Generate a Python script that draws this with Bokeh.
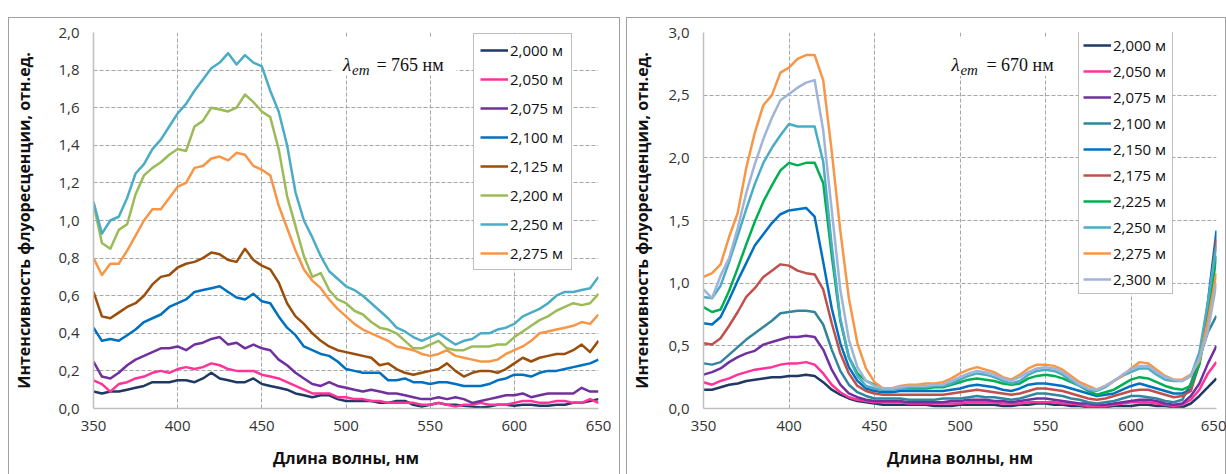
from bokeh.plotting import figure
from bokeh.models import (Range1d, FixedTicker, CustomJSTickFormatter, Legend,
                          LegendItem, Label, BoxAnnotation)
from bokeh.layouts import row
from bokeh.embed import file_html
from bokeh.resources import INLINE

# Excitation wavelength grid, nm
WAVELENGTH = list(range(350, 655, 5))

X_TICKS = [350, 400, 450, 500, 550, 600, 650]
X_TICK_LABELS = ["350", "400", "450", "500", "550", "600", "650"]

# ---------- Spectra recorded at lambda_em = 765 nm ----------
LEFT_Y_TICKS = [0.0, 0.2, 0.4, 0.6, 0.8, 1.0, 1.2, 1.4, 1.6, 1.8, 2.0]
LEFT_Y_TICK_LABELS = ["0,0", "0,2", "0,4", "0,6", "0,8", "1,0", "1,2", "1,4", "1,6", "1,8", "2,0"]
LEFT_LABELS = ["2,000 м", "2,050 м", "2,075 м", "2,100 м", "2,125 м", "2,200 м", "2,250 м", "2,275 м"]
LEFT_COLORS = ["#1f3864", "#ff3399", "#7030a0", "#0070c0", "#9a4e0b", "#9bbb59", "#4bacc6", "#f79646"]

L_2000 = [0.09, 0.08, 0.09, 0.09, 0.10, 0.11, 0.12, 0.14, 0.14, 0.14,
          0.15, 0.15, 0.14, 0.16, 0.19, 0.16, 0.15, 0.14, 0.14, 0.16,
          0.13, 0.12, 0.11, 0.10, 0.08, 0.07, 0.06, 0.07, 0.07, 0.05,
          0.04, 0.04, 0.04, 0.04, 0.03, 0.03, 0.04, 0.04, 0.02, 0.01,
          0.02, 0.03, 0.02, 0.02, 0.015, 0.01, 0.005, 0.01, 0.02, 0.02,
          0.015, 0.02, 0.02, 0.015, 0.015, 0.02, 0.02, 0.03, 0.03, 0.04,
          0.05]
L_2050 = [0.15, 0.13, 0.09, 0.13, 0.14, 0.16, 0.17, 0.19, 0.20, 0.19,
          0.21, 0.22, 0.21, 0.22, 0.24, 0.23, 0.21, 0.20, 0.20, 0.20,
          0.18, 0.17, 0.16, 0.14, 0.12, 0.10, 0.08, 0.08, 0.08, 0.06,
          0.06, 0.05, 0.05, 0.04, 0.04, 0.03, 0.03, 0.03, 0.03, 0.02,
          0.02, 0.03, 0.02, 0.01, 0.02, 0.02, 0.03, 0.02, 0.02, 0.02,
          0.03, 0.04, 0.04, 0.03, 0.03, 0.04, 0.04, 0.03, 0.03, 0.05,
          0.03]
L_2075 = [0.25, 0.17, 0.16, 0.19, 0.23, 0.26, 0.28, 0.30, 0.32, 0.32,
          0.33, 0.31, 0.34, 0.35, 0.37, 0.38, 0.34, 0.35, 0.32, 0.34,
          0.32, 0.31, 0.26, 0.23, 0.19, 0.16, 0.13, 0.12, 0.14, 0.12,
          0.11, 0.10, 0.09, 0.10, 0.09, 0.08, 0.08, 0.07, 0.06, 0.05,
          0.05, 0.06, 0.05, 0.06, 0.05, 0.03, 0.04, 0.05, 0.06, 0.07,
          0.07, 0.08, 0.06, 0.07, 0.08, 0.08, 0.08, 0.08, 0.11, 0.09,
          0.09]
L_2100 = [0.43, 0.36, 0.37, 0.36, 0.39, 0.42, 0.46, 0.48, 0.50, 0.54,
          0.56, 0.58, 0.62, 0.63, 0.64, 0.65, 0.62, 0.59, 0.58, 0.61,
          0.57, 0.56, 0.49, 0.43, 0.39, 0.33, 0.31, 0.29, 0.28, 0.25,
          0.21, 0.20, 0.19, 0.19, 0.19, 0.15, 0.15, 0.16, 0.14, 0.14,
          0.13, 0.14, 0.14, 0.13, 0.12, 0.12, 0.12, 0.13, 0.15, 0.16,
          0.18, 0.18, 0.17, 0.19, 0.20, 0.20, 0.21, 0.22, 0.23, 0.24,
          0.26]
L_2125 = [0.62, 0.49, 0.48, 0.51, 0.54, 0.56, 0.60, 0.66, 0.70, 0.71,
          0.75, 0.77, 0.78, 0.80, 0.83, 0.82, 0.79, 0.78, 0.85, 0.79,
          0.76, 0.74, 0.67, 0.56, 0.49, 0.45, 0.40, 0.36, 0.33, 0.31,
          0.30, 0.29, 0.28, 0.27, 0.23, 0.24, 0.21, 0.19, 0.18, 0.19,
          0.20, 0.21, 0.24, 0.20, 0.17, 0.19, 0.20, 0.20, 0.19, 0.21,
          0.24, 0.27, 0.25, 0.27, 0.28, 0.29, 0.29, 0.31, 0.34, 0.30,
          0.36]
L_2200 = [1.09, 0.88, 0.85, 0.95, 0.98, 1.14, 1.24, 1.28, 1.31, 1.35,
          1.38, 1.37, 1.50, 1.53, 1.60, 1.59, 1.58, 1.60, 1.67, 1.63,
          1.58, 1.55, 1.38, 1.13, 0.97, 0.81, 0.70, 0.72, 0.63, 0.58,
          0.56, 0.52, 0.50, 0.46, 0.43, 0.42, 0.40, 0.36, 0.32, 0.32,
          0.34, 0.36, 0.32, 0.31, 0.31, 0.33, 0.33, 0.33, 0.34, 0.34,
          0.38, 0.41, 0.44, 0.47, 0.49, 0.52, 0.54, 0.56, 0.55, 0.56,
          0.61]
L_2250 = [1.10, 0.93, 1.00, 1.02, 1.12, 1.25, 1.30, 1.38, 1.43, 1.50,
          1.57, 1.62, 1.69, 1.75, 1.81, 1.84, 1.89, 1.83, 1.88, 1.84,
          1.82, 1.69, 1.58, 1.40, 1.15, 1.00, 0.91, 0.81, 0.73, 0.69,
          0.65, 0.63, 0.60, 0.56, 0.52, 0.48, 0.43, 0.41, 0.38, 0.36,
          0.38, 0.40, 0.37, 0.34, 0.36, 0.37, 0.40, 0.40, 0.42, 0.43,
          0.45, 0.49, 0.51, 0.53, 0.56, 0.60, 0.62, 0.62, 0.63, 0.64,
          0.70]
L_2275 = [0.80, 0.71, 0.77, 0.77, 0.84, 0.92, 1.00, 1.06, 1.06, 1.12,
          1.18, 1.20, 1.28, 1.29, 1.33, 1.34, 1.32, 1.36, 1.35, 1.29,
          1.27, 1.24, 1.08, 0.96, 0.84, 0.74, 0.68, 0.64, 0.58, 0.53,
          0.49, 0.45, 0.42, 0.40, 0.38, 0.36, 0.33, 0.32, 0.31, 0.29,
          0.28, 0.29, 0.31, 0.28, 0.27, 0.26, 0.25, 0.25, 0.26, 0.29,
          0.31, 0.33, 0.36, 0.40, 0.41, 0.42, 0.43, 0.44, 0.46, 0.45,
          0.50]
LEFT_SERIES = [L_2000, L_2050, L_2075, L_2100, L_2125, L_2200, L_2250, L_2275]

# ---------- Spectra recorded at lambda_em = 670 nm ----------
RIGHT_Y_TICKS = [0.0, 0.5, 1.0, 1.5, 2.0, 2.5, 3.0]
RIGHT_Y_TICK_LABELS = ["0,0", "0,5", "1,0", "1,5", "2,0", "2,5", "3,0"]
RIGHT_LABELS = ["2,000 м", "2,050 м", "2,075 м", "2,100 м", "2,150 м",
                "2,175 м", "2,225 м", "2,250 м", "2,275 м", "2,300 м"]
RIGHT_COLORS = ["#1f3864", "#ff3399", "#7030a0", "#31859c", "#0070c0",
                "#c0504d", "#00b050", "#4bacc6", "#f79646", "#9fb4d8"]

R_2000 = [0.15, 0.15, 0.17, 0.19, 0.20, 0.22, 0.23, 0.24, 0.25, 0.25,
          0.26, 0.26, 0.27, 0.26, 0.21, 0.15, 0.11, 0.08, 0.06, 0.05,
          0.04, 0.03, 0.03, 0.03, 0.03, 0.03, 0.03, 0.02, 0.02, 0.02,
          0.03, 0.03, 0.03, 0.03, 0.03, 0.02, 0.02, 0.03, 0.03, 0.04,
          0.04, 0.03, 0.03, 0.02, 0.02, 0.01, 0.01, 0.01, 0.02, 0.02,
          0.02, 0.03, 0.03, 0.02, 0.02, 0.01, 0.01, 0.04, 0.10, 0.17,
          0.24]
R_2050 = [0.21, 0.19, 0.22, 0.24, 0.27, 0.29, 0.31, 0.32, 0.33, 0.35,
          0.36, 0.36, 0.37, 0.35, 0.28, 0.19, 0.13, 0.09, 0.07, 0.06,
          0.05, 0.05, 0.05, 0.05, 0.04, 0.04, 0.04, 0.04, 0.04, 0.04,
          0.04, 0.05, 0.05, 0.05, 0.05, 0.04, 0.04, 0.04, 0.05, 0.05,
          0.05, 0.05, 0.04, 0.04, 0.03, 0.02, 0.02, 0.02, 0.03, 0.04,
          0.05, 0.05, 0.05, 0.04, 0.03, 0.02, 0.03, 0.07, 0.15, 0.28,
          0.37]
R_2075 = [0.27, 0.29, 0.32, 0.37, 0.41, 0.44, 0.46, 0.51, 0.53, 0.55,
          0.57, 0.57, 0.58, 0.57, 0.47, 0.31, 0.19, 0.12, 0.09, 0.07,
          0.06, 0.06, 0.06, 0.06, 0.05, 0.05, 0.05, 0.05, 0.05, 0.06,
          0.06, 0.07, 0.07, 0.07, 0.06, 0.06, 0.05, 0.06, 0.07, 0.08,
          0.08, 0.07, 0.06, 0.05, 0.04, 0.04, 0.03, 0.03, 0.04, 0.05,
          0.06, 0.07, 0.07, 0.06, 0.04, 0.03, 0.04, 0.10, 0.20, 0.36,
          0.50]
R_2100 = [0.36, 0.35, 0.37, 0.43, 0.49, 0.55, 0.60, 0.65, 0.70, 0.76,
          0.77, 0.78, 0.78, 0.77, 0.67, 0.47, 0.30, 0.19, 0.13, 0.10,
          0.08, 0.08, 0.08, 0.08, 0.07, 0.07, 0.07, 0.07, 0.08, 0.08,
          0.08, 0.09, 0.10, 0.09, 0.09, 0.08, 0.07, 0.08, 0.10, 0.12,
          0.12, 0.11, 0.10, 0.08, 0.07, 0.05, 0.04, 0.05, 0.06, 0.08,
          0.10, 0.10, 0.09, 0.08, 0.06, 0.05, 0.07, 0.20, 0.40, 0.61,
          0.74]
R_2150 = [0.68, 0.67, 0.73, 0.87, 1.02, 1.16, 1.30, 1.39, 1.48, 1.55,
          1.58, 1.59, 1.60, 1.53, 1.17, 0.80, 0.52, 0.33, 0.22, 0.16,
          0.14, 0.13, 0.13, 0.14, 0.14, 0.14, 0.14, 0.14, 0.14, 0.15,
          0.16, 0.18, 0.19, 0.18, 0.17, 0.15, 0.14, 0.16, 0.19, 0.20,
          0.20, 0.19, 0.18, 0.16, 0.14, 0.12, 0.10, 0.11, 0.12, 0.15,
          0.18, 0.20, 0.18, 0.16, 0.14, 0.12, 0.12, 0.15, 0.38, 0.85,
          1.42]
R_2175 = [0.52, 0.51, 0.56, 0.66, 0.77, 0.89, 0.96, 1.05, 1.10, 1.15,
          1.14, 1.10, 1.08, 1.07, 0.95, 0.68, 0.44, 0.28, 0.18, 0.14,
          0.12, 0.11, 0.11, 0.11, 0.11, 0.11, 0.11, 0.11, 0.11, 0.12,
          0.13, 0.14, 0.15, 0.14, 0.13, 0.12, 0.11, 0.12, 0.14, 0.16,
          0.16, 0.15, 0.14, 0.12, 0.10, 0.08, 0.07, 0.08, 0.10, 0.12,
          0.14, 0.15, 0.15, 0.13, 0.11, 0.09, 0.10, 0.14, 0.36, 0.80,
          1.35]
R_2225 = [0.81, 0.77, 0.79, 0.94, 1.12, 1.31, 1.49, 1.65, 1.78, 1.90,
          1.96, 1.94, 1.96, 1.96, 1.80, 1.22, 0.70, 0.41, 0.28, 0.22,
          0.19, 0.16, 0.16, 0.16, 0.16, 0.16, 0.16, 0.17, 0.17, 0.19,
          0.21, 0.23, 0.24, 0.23, 0.22, 0.20, 0.19, 0.20, 0.24, 0.26,
          0.27, 0.26, 0.24, 0.21, 0.18, 0.14, 0.11, 0.13, 0.15, 0.19,
          0.23, 0.25, 0.24, 0.21, 0.18, 0.16, 0.15, 0.18, 0.35, 0.72,
          1.22]
R_2250 = [0.89, 0.88, 0.98, 1.17, 1.38, 1.59, 1.79, 1.96, 2.08, 2.18,
          2.27, 2.25, 2.25, 2.25, 1.97, 1.30, 0.72, 0.41, 0.26, 0.18,
          0.16, 0.15, 0.15, 0.16, 0.17, 0.17, 0.17, 0.18, 0.18, 0.20,
          0.23, 0.26, 0.28, 0.27, 0.25, 0.22, 0.20, 0.22, 0.27, 0.30,
          0.31, 0.30, 0.27, 0.22, 0.18, 0.15, 0.14, 0.17, 0.22, 0.26,
          0.29, 0.32, 0.32, 0.27, 0.23, 0.22, 0.22, 0.26, 0.45, 0.85,
          1.30]
R_2275 = [1.05, 1.08, 1.15, 1.37, 1.56, 1.92, 2.20, 2.42, 2.50, 2.68,
          2.72, 2.79, 2.82, 2.82, 2.62, 2.05, 1.42, 0.88, 0.52, 0.32,
          0.21, 0.16, 0.16, 0.18, 0.19, 0.19, 0.20, 0.20, 0.21, 0.24,
          0.28, 0.31, 0.33, 0.31, 0.29, 0.25, 0.23, 0.27, 0.32, 0.35,
          0.35, 0.34, 0.31, 0.26, 0.21, 0.18, 0.15, 0.18, 0.22, 0.26,
          0.32, 0.37, 0.36, 0.31, 0.26, 0.23, 0.23, 0.27, 0.38, 0.70,
          1.08]
R_2300 = [0.95, 0.88, 1.06, 1.20, 1.44, 1.72, 1.95, 2.15, 2.32, 2.46,
          2.51, 2.56, 2.60, 2.62, 2.22, 1.58, 0.95, 0.55, 0.33, 0.22,
          0.18, 0.16, 0.16, 0.17, 0.18, 0.18, 0.18, 0.19, 0.19, 0.22,
          0.25, 0.28, 0.30, 0.29, 0.27, 0.24, 0.22, 0.25, 0.29, 0.32,
          0.33, 0.32, 0.29, 0.24, 0.19, 0.16, 0.15, 0.18, 0.22, 0.27,
          0.31, 0.34, 0.34, 0.29, 0.25, 0.23, 0.22, 0.26, 0.40, 0.62,
          1.00]
RIGHT_SERIES = [R_2000, R_2050, R_2075, R_2100, R_2150, R_2175, R_2225, R_2250, R_2275, R_2300]

FONT = "Open Sans"
SERIF = "Liberation Serif"
GRID = "#a6a6a6"
PANEL_EDGE = "#a0a0a0"

# look the tick value up in the named tick list and return its printed label
LABEL_JS = """
const i = tick_values.findIndex(t => Math.abs(t - tick) < 1e-9);
return i >= 0 ? tick_texts[i] : "";
"""


def make_panel(series, names, colors, y_ticks, y_labels, width, borders,
               legend_xy, legend_pad, legend_spacing, ylab_standoff, xlab_standoff,
               em_text, em_pos, blank_box, margin):
    left, right, top, bottom = borders
    p = figure(width=width, height=457, x_range=Range1d(350, 650),
               y_range=Range1d(y_ticks[0], y_ticks[-1]),
               output_backend="svg", toolbar_location=None,
               min_border_left=left, min_border_right=right,
               min_border_top=top, min_border_bottom=bottom)
    p.margin = margin
    p.outline_line_color = None
    p.border_fill_alpha = 0
    p.background_fill_color = "white"
    p.styles = {"box-shadow": f"inset 1px 0 0 {PANEL_EDGE}, inset -1px 0 0 {PANEL_EDGE}, "
                              f"inset 0 1px 0 {PANEL_EDGE}"}

    p.xaxis.ticker = FixedTicker(ticks=X_TICKS)
    p.yaxis.ticker = FixedTicker(ticks=y_ticks)
    p.xaxis.formatter = CustomJSTickFormatter(
        args=dict(tick_values=X_TICKS, tick_texts=X_TICK_LABELS), code=LABEL_JS)
    p.yaxis.formatter = CustomJSTickFormatter(
        args=dict(tick_values=y_ticks, tick_texts=y_labels), code=LABEL_JS)

    for ax in (p.xaxis[0], p.yaxis[0]):
        ax.major_tick_line_color = None
        ax.minor_tick_line_color = None
        ax.major_tick_out = 0
        ax.major_tick_in = 0
        ax.axis_line_color = "#bfbfbf"
        ax.axis_line_width = 1.5
        ax.major_label_text_font = FONT
        ax.major_label_text_font_size = "15px"
        ax.major_label_text_color = "#333333"
        ax.axis_label_text_font = FONT
        ax.axis_label_text_font_size = "16px"
        ax.axis_label_text_font_style = "bold"
        ax.axis_label_text_color = "#111111"
    p.xaxis.axis_label = "Длина волны, нм"
    p.yaxis.axis_label = "Интенсивность флуоресценции, отн.ед."
    p.xaxis.major_label_standoff = 12
    p.xaxis.axis_label_standoff = xlab_standoff
    p.yaxis.major_label_standoff = 14
    p.yaxis.axis_label_standoff = ylab_standoff

    for g in (p.xgrid[0], p.ygrid[0]):
        g.grid_line_color = GRID
        g.grid_line_dash = "4 2"
        g.grid_line_width = 1
    p.xgrid.ticker = FixedTicker(ticks=X_TICKS)
    p.ygrid.ticker = FixedTicker(ticks=y_ticks)

    items = []
    for ys, name, col in zip(series, names, colors):
        r = p.line(WAVELENGTH, ys, line_color=col, line_width=2.5, line_join="round")
        items.append(LegendItem(label=name, renderers=[r]))

    legend = Legend(items=items, location=legend_xy, padding=legend_pad,
                    spacing=legend_spacing, margin=0,
                    glyph_width=28, glyph_height=14, label_height=14,
                    label_standoff=2, label_width=55,
                    label_text_font=FONT, label_text_font_size="15px",
                    label_text_color="#111111",
                    border_line_color="#7f7f7f", border_line_width=1,
                    background_fill_color="white", background_fill_alpha=1)
    p.add_layout(legend)

    bl, br, bb, bt = blank_box
    p.add_layout(BoxAnnotation(left=bl, right=br, bottom=bb, top=bt,
                               fill_color="white", fill_alpha=1, line_color=None))

    ex, ey, sub_dx, eq_dx = em_pos
    common = dict(x=ex, y=ey, text_font=SERIF, text_color="#111111",
                  text_baseline="alphabetic")
    p.add_layout(Label(text="λ", text_font_size="19px", text_font_style="italic", **common))
    p.add_layout(Label(text="em", text_font_size="15px", text_font_style="italic",
                       x_offset=sub_dx, y_offset=-5, **common))
    p.add_layout(Label(text=em_text, text_font_size="18px", x_offset=eq_dx, **common))
    return p


left_panel = make_panel(LEFT_SERIES, LEFT_LABELS, LEFT_COLORS, LEFT_Y_TICKS, LEFT_Y_TICK_LABELS,
                        width=612, borders=(85, 22, 15, 66),
                        legend_xy=(380, 138), legend_pad=6, legend_spacing=9,
                        ylab_standoff=20, xlab_standoff=13, em_text="= 765 нм",
                        em_pos=(498.2, 1.828, 9, 33.5),
                        blank_box=(492.6, 565.7, 1.771, 1.973),
                        margin=(17, 0, 0, 8))

right_panel = make_panel(RIGHT_SERIES, RIGHT_LABELS, RIGHT_COLORS, RIGHT_Y_TICKS, RIGHT_Y_TICK_LABELS,
                         width=600, borders=(77, 10, 14, 64),
                         legend_xy=(375, 114), legend_pad=4, legend_spacing=6,
                         ylab_standoff=12, xlab_standoff=13, em_text="= 670 нм",
                         em_pos=(495.0, 2.744, 9, 35),
                         blank_box=(491.5, 558.8, 2.652, 2.953),
                         margin=(17, 0, 0, 6))

layout = row(left_panel, right_panel, spacing=0)

with open("out.html", "w") as f:
    f.write(file_html(layout, INLINE, title="Спектры возбуждения флуоресценции"))
